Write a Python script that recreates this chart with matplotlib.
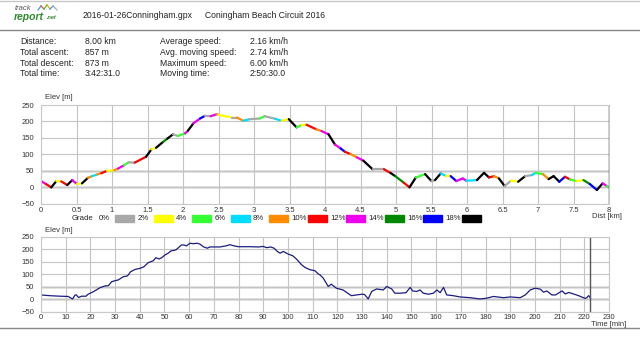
import numpy as np
import matplotlib
matplotlib.use("Agg")
import matplotlib.pyplot as plt
from matplotlib.collections import LineCollection
from matplotlib.lines import Line2D
from matplotlib.patches import Rectangle

plt.rcParams['font.family'] = ['Liberation Sans', 'DejaVu Sans']

# header / stats
file_name = "2016-01-26Conningham.gpx"
track_title = "Coningham Beach Circuit 2016"
stat_labels_1 = ["Distance:", "Total ascent:", "Total descent:", "Total time:"]
stat_values_1 = ["8.00 km", "857 m", "873 m", "3:42:31.0"]
stat_labels_2 = ["Average speed:", "Avg. moving speed:", "Maximum speed:", "Moving time:"]
stat_values_2 = ["2.16 km/h", "2.74 km/h", "6.00 km/h", "2:50:30.0"]

# elevation vs distance
dist_km = [0.00, 0.07, 0.145, 0.216, 0.286, 0.37, 0.44, 0.507, 0.577, 0.662,
           0.72, 0.79, 0.85, 0.93, 1.03, 1.085, 1.17, 1.235, 1.32, 1.48,
           1.555, 1.62, 1.72, 1.78, 1.86, 1.93, 2.03, 2.07, 2.145, 2.24,
           2.31, 2.39, 2.475, 2.50, 2.69, 2.76, 2.85, 2.94, 3.08, 3.15,
           3.30, 3.39, 3.49, 3.60, 3.67, 3.74, 3.88, 3.95, 4.05, 4.14,
           4.22, 4.28, 4.36, 4.45, 4.54, 4.67, 4.83, 4.92, 4.99, 5.11,
           5.19, 5.28, 5.41, 5.50, 5.55, 5.63, 5.71, 5.77, 5.85, 5.94,
           5.99, 6.14, 6.24, 6.31, 6.38, 6.45, 6.53, 6.62, 6.72, 6.82,
           6.91, 6.97, 7.07, 7.15, 7.22, 7.30, 7.38, 7.45, 7.54, 7.64,
           7.73, 7.83, 7.91, 7.97, 8.00]
elev_dist = [19, 10, 0, 19, 18, 7, 22, 10, 12, 29,
             34, 39, 43, 50, 52, 57, 67, 76, 75, 93,
             115, 120, 138, 148, 161, 156, 164, 172, 194, 209,
             217, 216, 222, 220, 212, 212, 202, 207, 209, 216,
             208, 202, 207, 182, 189, 190, 176, 171, 161, 130,
             118, 108, 101, 91, 81, 55, 55, 44, 34, 14,
             0, 30, 40, 19, 22, 42, 34, 34, 19, 27,
             20, 22, 44, 30, 34, 27, 4, 20, 17, 34,
             37, 44, 40, 25, 34, 17, 32, 24, 19, 22,
             10, -8, 12, 4, 0]
# grade class of each segment (index into grade_colors)
seg_grade = [6, 5, 9, 1, 5, 9, 6, 1, 9, 4,
             3, 4, 5, 1, 4, 6, 2, 0, 5, 9,
             1, 9, 7, 9, 0, 2, 6, 9, 6, 8,
             0, 6, 4, 1, 0, 4, 3, 0, 2, 0,
             3, 1, 9, 2, 1, 5, 4, 6, 9, 6,
             8, 5, 4, 6, 9, 0, 5, 9, 7, 5,
             9, 2, 9, 0, 9, 3, 1, 8, 6, 6,
             3, 9, 9, 5, 4, 9, 0, 1, 9, 0,
             3, 2, 4, 9, 9, 8, 5, 2, 1, 7,
             8, 9, 6, 2]
grade_labels = ["0%", "2%", "4%", "6%", "8%", "10%", "12%", "14%", "16%", "18%"]
grade_colors = ["#a8a8a8", "#ffff00", "#33ff33", "#00ddff", "#ff8c00",
                "#ff0000", "#ee00ee", "#008800", "#0000ff", "#000000"]
total_dist = 8.0

# elevation vs time
time_min = [0, 3.7, 7.7, 11, 11.7, 12.8, 13.8, 14.3, 15.2, 16.4,
            18.2, 19.1, 21.2, 23.9, 25.9, 27.3, 28.6, 30, 31.3, 33.3,
            35, 36.3, 38.1, 40.3, 41.7, 43.4, 45.5, 46.5, 47.9, 48.9,
            50.2, 51.5, 52.6, 54.6, 56.9, 57.9, 58.9, 60.3, 61.6, 63.3,
            64.4, 65.7, 67.3, 68.4, 72.5, 75.2, 76.5, 77.9, 79.9, 84.6,
            88, 90, 91.4, 93, 94.4, 95.7, 96.8, 98.1, 100.2, 101.9,
            103.5, 105.5, 106.9, 108.9, 110.9, 112.3, 113, 114.3, 116.3, 117.6,
            119.6, 122.3, 125.7, 127.7, 130, 131, 132.5, 133.9, 135.9, 138.6,
            140, 142, 143.3, 145.3, 147.8, 149.5, 150.5, 152.1, 153.5, 154.8,
            156.9, 158.9, 160.3, 161.6, 163, 164.3, 167, 169.7, 173.8, 177.8,
            180.5, 183.2, 187.3, 190, 194, 196.1, 198.1, 200.1, 202.2, 203.5,
            204.8, 206.9, 208.3, 211, 212.3, 213.7, 215, 217.7, 220.4, 221,
            221.7, 222.2, 222.5]
elev_time = [17, 14, 12, 11, 7, 1, 17, 17, 7, 12,
             12, 20, 30, 46, 53, 54, 70, 74, 77, 90,
             93, 110, 119, 124, 130, 146, 154, 166, 161, 166,
             177, 184, 193, 197, 217, 217, 213, 224, 222, 224,
             220, 210, 204, 209, 209, 214, 218, 214, 210, 210,
             209, 211, 206, 209, 204, 191, 184, 191, 180, 174,
             160, 138, 127, 118, 114, 101, 97, 84, 51, 60,
             44, 37, 14, 17, 20, 19, 1, 31, 41, 37,
             51, 41, 24, 24, 26, 47, 33, 31, 37, 24,
             20, 24, 37, 26, 47, 17, 14, 9, 6, 1,
             4, 11, 6, 9, 6, 17, 37, 44, 40, 28,
             33, 17, 17, 33, 21, 27, 23, 14, 3, 6,
             14, 10, 3]
total_time = 222.5

W, H = 640, 340
fig = plt.figure(figsize=(6.4, 3.4), dpi=100)
txt = "#222222"


def fx(x):
    return x / W


def fy(y):
    return 1 - y / H


# header lines
fig.add_artist(Line2D([0, 1], [fy(0.5), fy(0.5)], color="#c8c8c8", lw=1))
fig.add_artist(Line2D([0, 1], [fy(30), fy(30)], color="#888888", lw=1))
fig.add_artist(Line2D([0, 1], [fy(328), fy(328)], color="#888888", lw=1))

# logo
fig.text(fx(15), fy(8), "track", fontsize=5.5, style="italic", color="#555555", va="center")
fig.text(fx(14), fy(16.5), "report", fontsize=7.5, style="italic", weight="bold",
         color="#2e8b2e", va="center")
fig.text(fx(47), fy(17.5), ".net", fontsize=4, style="italic", weight="bold",
         color="#2e8b2e", va="center")
zx = [38, 41, 44, 47, 50, 53, 57]
zy = [10, 6, 9, 5, 9, 6, 10]
zc = ["#3399ff", "#ff4444", "#33cc33", "#ff9900", "#3399ff", "#aaaaaa"]
for i in range(len(zx) - 1):
    fig.add_artist(Line2D([fx(zx[i]), fx(zx[i + 1])], [fy(zy[i]), fy(zy[i + 1])],
                          color=zc[i], lw=0.9))

fs = 6.2
fig.text(fx(83), fy(15), file_name, fontsize=fs, color=txt, va="center")
fig.text(fx(205), fy(15), track_title, fontsize=fs, color=txt, va="center")

rows_y = [41.5, 52.5, 63.2, 74]
for i in range(4):
    fig.text(fx(20), fy(rows_y[i]), stat_labels_1[i], fontsize=fs, color=txt, va="center")
    fig.text(fx(85), fy(rows_y[i]), stat_values_1[i], fontsize=fs, color=txt, va="center")
    fig.text(fx(160), fy(rows_y[i]), stat_labels_2[i], fontsize=fs, color=txt, va="center")
    fig.text(fx(250), fy(rows_y[i]), stat_values_2[i], fontsize=fs, color=txt, va="center")


def style_axes(ax):
    for s in ax.spines.values():
        s.set_color("#c8c8c8")
        s.set_linewidth(0.8)
    ax.grid(True, color="#c4c4c4", lw=0.8)
    ax.set_axisbelow(True)
    ax.tick_params(length=0, labelsize=5.5, labelcolor="#333333")
    ax.tick_params(axis="y", pad=5)
    ax.tick_params(axis="x", pad=2)
    ax.set_ylim(-50, 250)
    ax.set_yticks(np.arange(-50, 251, 50))
    for v in (0, 50):
        ax.axhline(v, color="#dadada", lw=1.8, zorder=0.5)


# top chart: elevation vs distance, coloured by grade
ax1 = fig.add_axes([fx(41), fy(203.8), fx(568), 98.8 / H])
style_axes(ax1)
pts = np.column_stack([dist_km, elev_dist])
segs = np.stack([pts[:-1], pts[1:]], axis=1)
lc = LineCollection(segs, colors=[grade_colors[g] for g in seg_grade], linewidths=1.6,
                    capstyle="round")
ax1.add_collection(lc)
ax1.set_xlim(0, 8)
ax1.set_xticks(np.arange(0, 8.01, 0.5))
ax1.set_xticklabels([f"{v:g}" for v in np.arange(0, 8.01, 0.5)])
ax1.axvline(total_dist, color="#222222", lw=1)
fig.text(fx(45), fy(97.5), "Elev [m]", fontsize=5.5, color="#333333", va="center")
fig.text(fx(607), fy(217), "Dist [km]", fontsize=5.5, color="#333333", va="center", ha="center")

# grade legend
fig.text(fx(72), fy(218), "Grade", fontsize=5.6, color=txt, va="center")
for i, (lab, col) in enumerate(zip(grade_labels, grade_colors)):
    x0 = 99 + 38.5 * i
    fig.text(fx(x0), fy(218), lab, fontsize=5.6, color=txt, va="center")
    fig.add_artist(Rectangle((fx(x0 + 16), fy(222)), fx(19), 7 / H, color=col,
                             transform=fig.transFigure))

# bottom chart: elevation vs time
ax2 = fig.add_axes([fx(41), fy(311.7), fx(568), 75 / H])
style_axes(ax2)
ax2.plot(time_min, elev_time, color="#1c1c80", lw=0.9)
ax2.set_xlim(0, 230)
ax2.set_xticks(np.arange(0, 231, 10))
ax2.axvline(total_time, color="#555555", lw=1)
fig.text(fx(45), fy(231), "Elev [m]", fontsize=5.5, color="#333333", va="center")
fig.text(fx(609), fy(324.5), "Time [min]", fontsize=5.5, color="#333333", va="center", ha="center")

fig.savefig("out.png", dpi=100)
